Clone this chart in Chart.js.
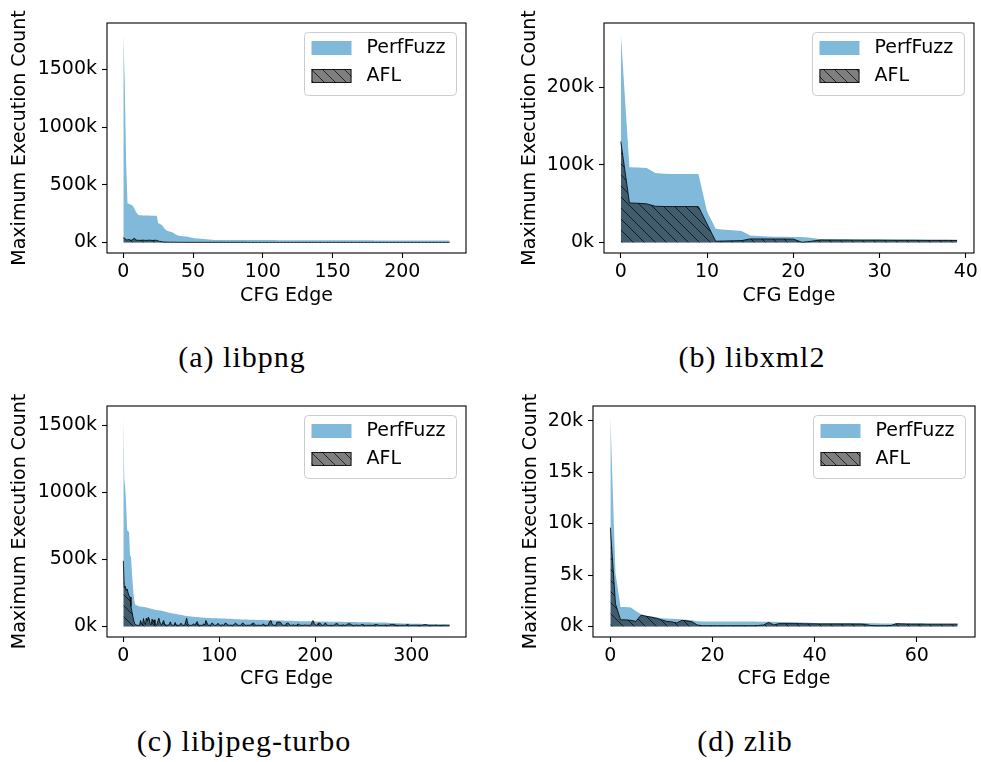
<!DOCTYPE html>
<html>
<head>
<meta charset="utf-8">
<script src="https://cdn.jsdelivr.net/npm/chart.js@4.4.1/dist/chart.umd.min.js"></script>
<style>
  body { margin: 0; background: #fff; width: 981px; height: 762px; position: relative; overflow: hidden; }
  canvas { position: absolute; }
  .cap { position: absolute; width: 400px; text-align: center; font-family: "Liberation Serif", serif; font-size: 30px; letter-spacing: 1px; line-height: 34px; color: #000; }
</style>
</head>
<body>
<canvas id="libpng" width="490" height="320" style="left:0;top:0"></canvas>
<canvas id="libxml2" width="491" height="320" style="left:490px;top:0"></canvas>
<canvas id="libjpeg" width="490" height="320" style="left:0;top:383px"></canvas>
<canvas id="zlib" width="491" height="320" style="left:490px;top:383px"></canvas>
<div class="cap" style="left:42px;top:340px">(a) libpng</div>
<div class="cap" style="left:552px;top:340px">(b) libxml2</div>
<div class="cap" style="left:44px;top:724px">(c) libjpeg-turbo</div>
<div class="cap" style="left:545px;top:724px">(d) zlib</div>
<script>
// max execution count per CFG edge, in thousands, edges sorted by PerfFuzz count
const pngPerf = [
  1810, 1400, 700, 340, 335, 330, 326, 315, 290, 268, 250, 238,
  236, 236, 235, 235, 235, 234, 234, 234, 233, 233, 233, 232, 232,
  168, 163, 157, 148, 128, 116, 105, 100, 96, 93, 90,
  82, 74, 67, 61, 58, 56, 55, 54, 53, 52, 50, 47, 44, 42, 40, 38,
  36, 35, 34, 33, 32, 31, 30, 29, 28, 27, 26, 25, 24,
  23, 23, 23, 23, 23, 22, 22, 22, 22, 22,
  22, 22, 22, 22, 22, 22, 22, 22, 22, 22,
  21, 21, 21, 21, 21, 21, 21, 21, 21, 21,
  21, 21, 21, 21, 21, 21, 21, 21, 21, 21,
  21, 21, 21, 21, 21, 20, 20, 20, 20, 20,
  20, 20, 20, 20, 20, 20, 20, 20, 20, 20,
  20, 20, 20, 20, 20, 20, 20, 20, 20, 20,
  20, 20, 20, 20, 20, 20, 20, 20, 20, 20,
  20, 19, 19, 19, 19, 19, 19, 19, 19, 19,
  19, 19, 19, 19, 19, 19, 19, 19, 19, 19,
  19, 19, 19, 19, 19, 19, 19, 19, 19, 19,
  19, 19, 19, 19, 19, 18, 18, 18, 18, 18,
  18, 18, 18, 18, 18, 18, 18, 18, 18, 18,
  18, 18, 18, 18, 18, 18, 18, 18, 18, 18,
  18, 18, 18, 18, 18, 18, 18, 18, 18, 18,
  18, 17, 17, 17, 17, 17, 17, 17, 17, 17,
  17, 17, 17, 17, 17, 17, 17, 17, 17, 17
];
const pngAfl = [
  42, 38, 22, 24, 26, 22, 20, 30, 38, 20, 22, 18,
  20, 19, 21, 20, 18, 19, 20, 21, 19, 18, 19, 20, 18,
  14, 10, 8, 6, 5, 4, 4, 3, 3, 3, 3,
  3, 3, 3, 2, 2, 2, 2, 2, 2, 2, 2, 2, 2, 2, 2, 2,
  2, 2, 2, 2, 2, 2, 2, 2, 2, 2, 2, 2, 2,
  2, 2, 2, 2, 2, 2, 2, 2, 2, 2,
  2, 2, 2, 2, 2, 2, 2, 2, 2, 2,
  2, 2, 2, 2, 1, 1, 1, 1, 1, 1,
  1, 1, 1, 1, 1, 1, 1, 1, 1, 1,
  1, 1, 1, 1, 1, 1, 1, 1, 1, 1,
  1, 1, 1, 1, 1, 1, 1, 1, 1, 1,
  1, 1, 1, 1, 1, 1, 1, 1, 1, 1,
  1, 1, 1, 1, 1, 1, 1, 1, 1, 1,
  1, 1, 1, 1, 1, 1, 1, 1, 1, 1,
  1, 1, 1, 1, 1, 1, 1, 1, 1, 1,
  1, 1, 1, 1, 1, 1, 1, 1, 1, 1,
  1, 1, 1, 1, 1, 1, 1, 1, 1, 1,
  1, 1, 1, 1, 1, 1, 1, 1, 1, 1,
  1, 1, 1, 1, 1, 1, 1, 1, 1, 1,
  1, 1, 1, 1, 1, 1, 1, 1, 1, 1,
  1, 1, 1, 1, 1, 1, 1, 1, 1, 1,
  1, 1, 1, 1, 1, 1, 1, 1, 1, 1
];
const xmlPerf = [
  269, 97, 96.5, 96, 89.5, 88.4, 88.3, 88.3, 88.2, 88.2,
  40, 17.6, 16.5, 15.8, 14.8, 9, 8.5, 7.8, 7.5, 7.3,
  7.1, 7, 6.2, 4.7, 4.6, 4.5, 4.5, 4.4, 4.3, 4.2,
  4.1, 4, 3.9, 3.8, 3.8, 3.7, 3.6, 3.5, 3.5, 3.4
];
const xmlAfl = [
  130, 51, 50.5, 49.8, 46.7, 46.4, 46.3, 46.3, 46.3, 46.2,
  24, 1.7, 2, 2.2, 2.5, 4.7, 4.7, 4.7, 4.6, 4.6,
  4.4, 0.4, 1.5, 3.2, 3.2, 3.1, 3.1, 3.1, 3, 3,
  3, 3, 2.9, 2.9, 2.9, 2.9, 2.8, 2.8, 2.8, 2.8
];
const jpegPerf = [
  1567, 1100, 1040, 900, 720, 710, 705, 530, 520, 400, 300, 220, 170, 160,
  158, 155, 152, 150, 149, 148, 147, 146, 145, 144, 142, 140, 138,
  136, 134, 132, 130, 128, 126, 125, 124, 123, 122, 121, 120, 119, 118,
  116, 114, 112, 110, 108, 106, 104, 102, 100, 99, 98, 97, 96, 95, 94,
  92, 90, 89, 88, 86, 85, 84, 82, 81, 80, 79, 78, 77, 76, 75,
  74, 73, 73, 72, 71, 71, 70, 69, 69, 68,
  67, 67, 66, 66, 65, 65, 64, 64, 63, 63,
  63, 62, 62, 62, 61, 61, 61, 61, 61, 60,
  60, 60, 60, 59, 59, 59, 58, 58, 58, 57,
  57, 57, 56, 56, 56, 55, 55, 55, 54, 54,
  54, 53, 53, 53, 53, 52, 52, 52, 52, 51,
  51, 51, 51, 50, 50, 50, 50, 49, 49, 49,
  49, 49, 48, 48, 48, 48, 48, 47, 47, 47,
  47, 47, 46, 46, 46, 46, 46, 45, 45, 45,
  45, 45, 44, 44, 44, 44, 44, 43, 43, 43,
  43, 43, 42, 42, 42, 42, 42, 41, 41, 41,
  41, 41, 40, 40, 40, 40, 40, 40, 39, 39,
  39, 39, 39, 39, 38, 38, 38, 38, 38, 38,
  38, 38, 37, 37, 37, 37, 37, 37, 37, 37,
  37, 37, 37, 36, 36, 36, 36, 36, 36, 36,
  36, 36, 35, 35, 35, 35, 35, 35, 35, 34,
  34, 34, 34, 34, 34, 34, 33, 33, 33, 33,
  33, 33, 33, 32, 32, 32, 32, 32, 32, 32,
  31, 31, 31, 31, 31, 31, 31, 31, 30, 30,
  30, 30, 30, 30, 30, 30, 30, 30, 30, 30,
  29, 29, 29, 28, 28, 28, 27, 27, 27, 26,
  26, 26, 25, 25, 25, 24, 24, 24, 24, 23,
  23, 23, 23, 22, 22, 22, 22, 22, 21, 21,
  21, 21, 21, 21, 20, 20, 20, 20, 20, 20,
  19, 19, 19, 19, 18, 18, 18, 18, 17, 17,
  17, 17, 16, 16, 16, 16, 15, 15, 15, 15,
  15, 14, 14, 14, 14, 14, 13, 13, 13, 13
];
const jpegAfl = [
  490, 290, 300, 270, 280, 250, 230, 220, 150, 110,
  75, 40, 20, 12, 10, 9, 8, 12, 45, 20,
  10, 60, 30, 14, 62, 40, 70, 55, 20, 12,
  55, 30, 50, 15, 10, 12, 40, 62, 35, 14,
  10, 30, 45, 20, 12, 10, 9, 9, 20, 35,
  15, 10, 9, 9, 30, 12, 9, 9, 9, 10,
  25, 14, 9, 9, 9, 37, 62, 25, 12, 9,
  9, 9, 10, 20, 14, 9, 30, 37, 15, 10,
  9, 9, 9, 14, 20, 10, 45, 30, 12, 9,
  9, 9, 25, 25, 14, 9, 9, 10, 20, 22,
  12, 9, 9, 14, 9, 9, 25, 25, 25, 12,
  9, 9, 10, 9, 9, 14, 20, 25, 20, 10,
  9, 9, 9, 15, 25, 25, 14, 9, 9, 9,
  10, 9, 9, 9, 20, 25, 25, 15, 9, 9,
  9, 10, 9, 9, 9, 12, 20, 9, 9, 9,
  9, 9, 30, 42, 42, 20, 10, 9, 9, 9,
  33, 33, 33, 33, 30, 20, 9, 9, 9, 9,
  25, 25, 25, 14, 9, 9, 9, 14, 9, 9,
  9, 10, 20, 20, 10, 9, 9, 9, 9, 12,
  10, 9, 9, 9, 9, 9, 20, 42, 42, 20,
  12, 9, 9, 25, 25, 25, 15, 9, 9, 9,
  25, 25, 12, 9, 9, 9, 9, 10, 9, 9,
  9, 20, 22, 22, 10, 9, 9, 9, 9, 14,
  9, 9, 9, 9, 20, 20, 20, 18, 9, 9,
  9, 9, 9, 12, 9, 9, 9, 9, 14, 14,
  14, 9, 9, 9, 9, 9, 9, 10, 9, 9,
  9, 9, 14, 14, 14, 14, 9, 9, 9, 9,
  9, 9, 9, 12, 9, 9, 9, 9, 14, 14,
  14, 14, 14, 9, 9, 9, 9, 9, 9, 9,
  9, 10, 9, 9, 9, 14, 14, 14, 9, 9,
  9, 9, 9, 9, 9, 10, 9, 9, 9, 9,
  9, 9, 9, 14, 14, 14, 14, 9, 9, 9,
  9, 9, 9, 9, 9, 9, 12, 9, 9, 9,
  9, 9, 10, 10, 10, 10, 10, 10, 10, 10,
  10
];
const zlibPerf = [
  20.4, 5.2, 1.9, 1.9, 1.85, 1.5, 1.2, 1.05, 1.0, 0.9,
  0.8, 0.78, 0.75, 0.72, 0.68, 0.65, 0.6, 0.5, 0.49, 0.49,
  0.49, 0.49, 0.49, 0.49, 0.49, 0.49, 0.49, 0.49, 0.49, 0.46,
  0.45, 0.45, 0.45, 0.44, 0.44, 0.43, 0.42, 0.4, 0.38, 0.36,
  0.35, 0.34, 0.34, 0.33, 0.33, 0.33, 0.33, 0.33, 0.33, 0.33,
  0.33, 0.32, 0.31, 0.3, 0.3, 0.3, 0.3, 0.29, 0.28, 0.28,
  0.28, 0.28, 0.27, 0.27, 0.27, 0.27, 0.26, 0.26, 0.26
];
const zlibAfl = [
  9.6, 2.2, 0.65, 0.65, 0.6, 0.5, 1.1, 1.0, 0.9, 0.8,
  0.65, 0.5, 0.45, 0.35, 0.6, 0.55, 0.45, 0.15, 0.08, 0.08,
  0.08, 0.08, 0.08, 0.08, 0.08, 0.08, 0.08, 0.08, 0.08, 0.1,
  0.15, 0.4, 0.15, 0.28, 0.28, 0.28, 0.28, 0.28, 0.26, 0.26,
  0.26, 0.25, 0.25, 0.25, 0.25, 0.25, 0.25, 0.25, 0.24, 0.24,
  0.2, 0.1, 0.08, 0.08, 0.08, 0.1, 0.28, 0.26, 0.25, 0.24,
  0.24, 0.24, 0.23, 0.23, 0.23, 0.23, 0.23, 0.23, 0.23
];

const pngXTicks = [0, 50, 100, 150, 200];
const pngYTicks = [0, 500, 1000, 1500];
const xmlXTicks = [0, 10, 20, 30, 40];
const xmlYTicks = [0, 100, 200];
const jpegXTicks = [0, 100, 200, 300];
const jpegYTicks = [0, 500, 1000, 1500];
const zlibXTicks = [0, 20, 40, 60];
const zlibYTicks = [0, 5, 10, 15, 20];

const FONT = '"DejaVu Sans", sans-serif';
Chart.defaults.font.family = FONT;
Chart.defaults.font.size = 19;
Chart.defaults.color = '#000';

const perfColor = '#80b9da';

function makeHatch() {
  const s = 11;
  const c = document.createElement('canvas');
  c.width = s; c.height = s;
  const g = c.getContext('2d');
  g.fillStyle = 'rgba(0,0,0,0.5)';
  g.fillRect(0, 0, s, s);
  g.strokeStyle = 'rgba(0,0,0,0.7)';
  g.lineWidth = 1;
  [-s, 0, s].forEach(k => {
    g.beginPath(); g.moveTo(k, 0); g.lineTo(k + s, s); g.stroke();
  });
  return g.createPattern(c, 'repeat');
}
const hatch = makeHatch();

// axes box on all four sides + matplotlib style legend in the upper right
const frameLegend = {
  id: 'frameLegend',
  afterDatasetsDraw(chart) {
    const {ctx, chartArea: a} = chart;
    ctx.save();
    ctx.strokeStyle = '#000';
    ctx.lineWidth = 1.1;
    ctx.strokeRect(a.left, a.top, a.right - a.left, a.bottom - a.top);
    ctx.restore();
  },
  afterDraw(chart) {
    const {ctx, chartArea: a} = chart;
    const bw = 152, bh = 63;
    const bx = a.right - 9.5 - bw, by = a.top + 9.5;
    ctx.save();
    ctx.beginPath();
    ctx.roundRect(bx, by, bw, bh, 4);
    ctx.fillStyle = 'rgba(255,255,255,0.8)';
    ctx.fill();
    ctx.strokeStyle = '#cccccc';
    ctx.lineWidth = 1;
    ctx.stroke();
    chart.data.datasets.forEach((ds, k) => {
      const cy = by + 15.5 + k * 28;
      ctx.fillStyle = ds.backgroundColor;
      ctx.fillRect(bx + 7, cy - 7, 40, 14);
      if (ds.borderWidth) {
        ctx.strokeStyle = ds.borderColor;
        ctx.lineWidth = 1;
        ctx.strokeRect(bx + 7.5, cy - 6.5, 39, 13);
      }
      ctx.fillStyle = '#000';
      ctx.font = '19px ' + FONT;
      ctx.textBaseline = 'middle';
      ctx.fillText(ds.label, bx + 62, cy);
    });
    ctx.restore();
  }
};

function drawPanel(canvasId, perf, afl, xTicks, yTicks, box) {
  const n = perf.length - 1;
  const top = Math.max(...perf, ...afl);
  const toPoints = arr => arr.map((v, i) => ({x: i, y: v}));
  new Chart(document.getElementById(canvasId), {
    type: 'line',
    data: {
      datasets: [
        { label: 'PerfFuzz', data: toPoints(perf), backgroundColor: perfColor, borderColor: 'rgba(0,0,0,0)',
          borderWidth: 0, fill: 'origin', pointRadius: 0, tension: 0, order: 2 },
        { label: 'AFL', data: toPoints(afl), backgroundColor: hatch, borderColor: 'rgba(0,0,0,0.8)',
          borderWidth: 1, fill: 'origin', pointRadius: 0, tension: 0, order: 1 }
      ]
    },
    options: {
      responsive: false,
      animation: false,
      layout: { padding: { top: box.top, right: box.right, left: 0, bottom: 0 } },
      plugins: { legend: { display: false }, tooltip: { enabled: false } },
      scales: {
        x: {
          type: 'linear', min: -0.05 * n, max: 1.05 * n,
          afterBuildTicks: s => { s.ticks = xTicks.map(v => ({value: v})); },
          afterFit: s => { s.height = box.xh; },
          border: { display: false },
          grid: { drawOnChartArea: false, tickLength: 5, tickColor: '#000', tickWidth: 1.1 },
          ticks: { padding: 3, maxRotation: 0, autoSkip: false },
          title: { display: true, text: 'CFG Edge', padding: { top: 0, bottom: 13 } }
        },
        y: {
          type: 'linear', min: -0.05 * top, max: 1.05 * top,
          afterBuildTicks: s => { s.ticks = yTicks.map(v => ({value: v})); },
          afterFit: s => { s.width = box.yw; },
          border: { display: false },
          grid: { drawOnChartArea: false, tickLength: 5, tickColor: '#000', tickWidth: 1.1 },
          ticks: { padding: 5, autoSkip: false, callback: v => v + 'k' },
          title: { display: true, text: 'Maximum Execution Count', padding: { top: box.tp, bottom: 0 } }
        }
      }
    },
    plugins: [frameLegend]
  });
}

drawPanel('libpng', pngPerf, pngAfl, pngXTicks, pngYTicks, {yw: 107, top: 23, right: 24, xh: 67, tp: 9});
drawPanel('libxml2', xmlPerf, xmlAfl, xmlXTicks, xmlYTicks, {yw: 114, top: 23, right: 6, xh: 67, tp: 28.5});
drawPanel('libjpeg', jpegPerf, jpegAfl, jpegXTicks, jpegYTicks, {yw: 107, top: 23, right: 24, xh: 66, tp: 9});
drawPanel('zlib', zlibPerf, zlibAfl, zlibXTicks, zlibYTicks, {yw: 103, top: 23, right: 6, xh: 66, tp: 30});
</script>
</body>
</html>
